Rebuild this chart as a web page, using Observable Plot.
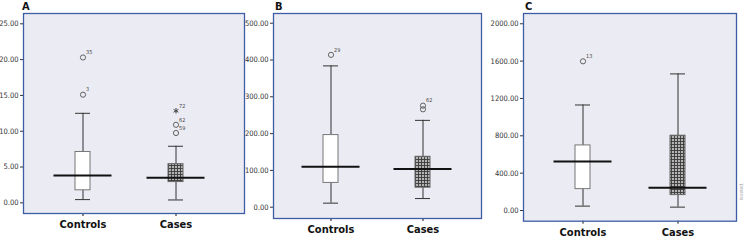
<!DOCTYPE html>
<html>
<head>
<meta charset="utf-8">
<script src="https://cdn.jsdelivr.net/npm/d3@7"></script>
<script src="https://cdn.jsdelivr.net/npm/@observablehq/plot@0.6"></script>
<style>
  html, body { margin: 0; padding: 0; background: #ffffff; }
  #wrap { position: relative; width: 750px; height: 240px; overflow: hidden; background: #fff; }
  .panel { position: absolute; top: 0; }
  .panel svg { overflow: visible; }
  .letter { position: absolute; top: 0px; font: bold 11px "DejaVu Sans Condensed", "Liberation Sans Narrow", "Liberation Sans", Arial, sans-serif; color: #111; }
  .mark { position: absolute; left: 738px; top: 200px; transform: rotate(-90deg); transform-origin: left top; font: 5px "Liberation Sans", sans-serif; color: #aaa; }
</style>
</head>
<body>
<div id="wrap"></div>
<script>
// ---------- data ----------
const groups = ["Controls", "Cases"];

// Panel A
const aTicks = [0, 5, 10, 15, 20, 25];
const aMin = [0.45, 0.4];
const aQ1 = [1.75, 2.9];
const aMed = [3.8, 3.5];
const aQ3 = [7.1, 5.4];
const aMax = [12.5, 7.9];
const aOutGroup = ["Controls", "Controls", "Cases", "Cases", "Cases"];
const aOutValue = [15.1, 20.3, 9.75, 10.9, 12.85];
const aOutLabel = ["3", "35", "59", "62", "72"];
const aOutExtreme = [false, false, false, false, true];

// Panel B
const bTicks = [0, 100, 200, 300, 400, 500];
const bMin = [11, 23.5];
const bQ1 = [66, 53];
const bMed = [110, 104];
const bQ3 = [196, 137];
const bMax = [384, 236];
const bOutGroup = ["Controls", "Cases", "Cases"];
const bOutValue = [414, 266, 276];
const bOutLabel = ["29", "", "62"];
const bOutExtreme = [false, false, false];

// Panel C
const cTicks = [0, 400, 800, 1200, 1600, 2000];
const cMin = [47, 36];
const cQ1 = [229, 165];
const cMed = [525, 243];
const cQ3 = [697, 801];
const cMax = [1130, 1463];
const cOutGroup = ["Controls"];
const cOutValue = [1598];
const cOutLabel = ["13"];
const cOutExtreme = [false];

// ---------- drawing ----------
const FONT = '"DejaVu Sans Condensed", "Liberation Sans Narrow", "Liberation Sans", Arial, sans-serif';

function makePanel(cfg) {
  const rows = groups.map((g, i) => ({
    group: g, min: cfg.min[i], q1: cfg.q1[i], med: cfg.med[i], q3: cfg.q3[i], max: cfg.max[i]
  }));
  const outs = cfg.outGroup.map((g, i) => ({
    group: g, value: cfg.outValue[i], label: cfg.outLabel[i], extreme: cfg.outExtreme[i]
  }));
  const pid = "grid-" + cfg.id;
  const svg = Plot.plot({
    width: 250,
    height: 240,
    marginLeft: 23,
    marginRight: cfg.marginRight,
    marginTop: 13,
    marginBottom: cfg.marginBottom,
    style: { background: "transparent", fontFamily: FONT, overflow: "visible" },
    x: { type: "band", domain: groups, range: cfg.xRange, paddingInner: cfg.pad, paddingOuter: 0 },
    y: { domain: cfg.yDomain },
    marks: [
      Plot.frame({ fill: "#ebebf3", stroke: "none" }),
      Plot.axisY({
        ticks: cfg.ticks, tickFormat: d3.format(".2f"), tickSize: 3, tickPadding: 2,
        fontSize: 7.5, color: "#333", label: null
      }),
      Plot.axisX({
        tickSize: 3, tickPadding: 4, fontSize: 11, fontWeight: "bold", color: "#111", label: null
      }),
      // whiskers
      Plot.ruleX(rows, { x: "group", y1: "min", y2: "q1", stroke: "#333", strokeWidth: 1 }),
      Plot.ruleX(rows, { x: "group", y1: "q3", y2: "max", stroke: "#333", strokeWidth: 1 }),
      Plot.tickY(rows, { x: "group", y: "min", stroke: "#333", strokeWidth: 1 }),
      Plot.tickY(rows, { x: "group", y: "max", stroke: "#333", strokeWidth: 1 }),
      // boxes
      Plot.barY(rows.filter(d => d.group === "Controls"), {
        x: "group", y1: "q1", y2: "q3", fill: "white", stroke: "#777", strokeWidth: 1
      }),
      Plot.barY(rows.filter(d => d.group === "Cases"), {
        x: "group", y1: "q1", y2: "q3", fill: `url(#${pid})`, stroke: "#666", strokeWidth: 1
      }),
      // medians
      Plot.tickY(rows, {
        x: "group", y: "med", stroke: "#111", strokeWidth: 2, insetLeft: -21.5, insetRight: -21.5
      }),
      // outliers
      Plot.dot(outs.filter(d => !d.extreme), {
        x: "group", y: "value", r: 2.6, stroke: "#555", strokeWidth: 0.9, fill: "none"
      }),
      Plot.dot(outs.filter(d => d.extreme), {
        x: "group", y: "value", r: 2.6, symbol: "asterisk", stroke: "#444", strokeWidth: 1
      }),
      Plot.text(outs.filter(d => d.label), {
        x: "group", y: "value", text: "label", dx: 3, dy: -5, textAnchor: "start",
        fontSize: 5.5, fill: "#444"
      }),
      Plot.frame({ stroke: "#3d5da6", strokeWidth: 1.3, fill: "none" })
    ]
  });
  const ns = "http://www.w3.org/2000/svg";
  const defs = document.createElementNS(ns, "defs");
  defs.innerHTML =
    `<pattern id="${pid}" width="3" height="3" patternUnits="userSpaceOnUse">` +
    `<rect width="3" height="3" fill="#b4b4b4"/>` +
    `<path d="M0 0.5H3M0.5 0V3" stroke="#3a3a3a" stroke-width="0.9"/></pattern>`;
  svg.insertBefore(defs, svg.firstChild);
  return svg;
}

const wrap = document.getElementById("wrap");
const panels = [
  { id: "A", left: 0, letterX: 22, min: aMin, q1: aQ1, med: aMed, q3: aQ3, max: aMax,
    outGroup: aOutGroup, outValue: aOutValue, outLabel: aOutLabel, outExtreme: aOutExtreme,
    ticks: aTicks, yDomain: [-1.49, 26.44], marginRight: 6, marginBottom: 27,
    xRange: [74.5, 183.5], pad: 0.8404 },
  { id: "B", left: 250, letterX: 275, min: bMin, q1: bQ1, med: bMed, q3: bQ3, max: bMax,
    outGroup: bOutGroup, outValue: bOutValue, outLabel: bOutLabel, outExtreme: bOutExtreme,
    ticks: bTicks, yDomain: [-30.7, 526.4], marginRight: 19, marginBottom: 22,
    xRange: [73, 180.8], pad: 0.838 },
  { id: "C", left: 500, letterX: 525, min: cMin, q1: cQ1, med: cMed, q3: cQ3, max: cMax,
    outGroup: cOutGroup, outValue: cOutValue, outLabel: cOutLabel, outExtreme: cOutExtreme,
    ticks: cTicks, yDomain: [-114.6, 2110], marginRight: 14, marginBottom: 19.3,
    xRange: [74.5, 185.2], pad: 0.843 }
];
for (const p of panels) {
  const div = document.createElement("div");
  div.className = "panel";
  div.style.left = p.left + "px";
  div.appendChild(makePanel(p));
  wrap.appendChild(div);
  const lab = document.createElement("div");
  lab.className = "letter";
  lab.style.left = p.letterX + "px";
  lab.textContent = p.id;
  wrap.appendChild(lab);
}
const wm = document.createElement("div");
wm.className = "mark";
wm.textContent = "isoeted.";
wrap.appendChild(wm);
</script>
</body>
</html>
